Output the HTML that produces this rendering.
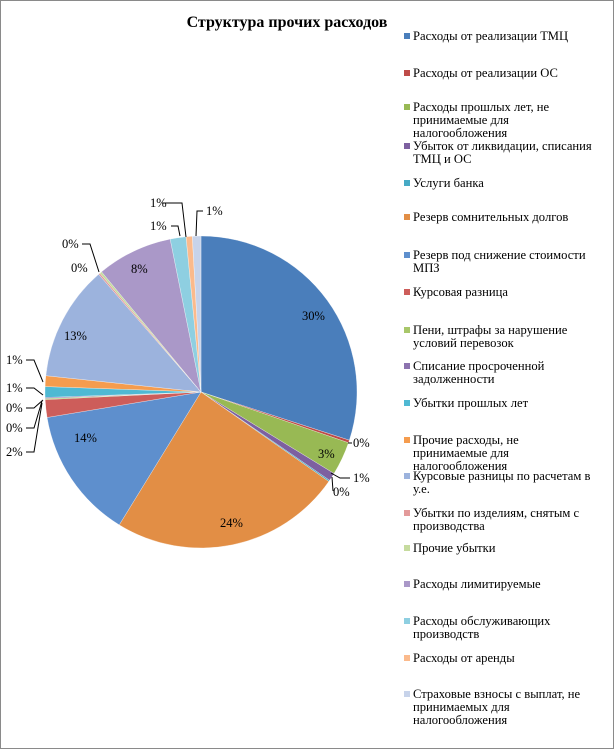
<!DOCTYPE html>
<html><head><meta charset="utf-8"><style>
html,body{margin:0;padding:0;background:#fff}
body{width:614px;height:749px;overflow:hidden;position:relative;font-family:"Liberation Serif",serif}
#frame{position:absolute;left:0;top:0;width:612px;height:747px;border:1px solid #8a8a8a}
.t{position:absolute;left:-20px;top:14px;width:614px;text-align:center;font-weight:bold;font-size:16px;color:#000}
.lg{position:absolute;left:404px;width:200px;font-size:12.6px;line-height:13px;color:#000}
.lg i{position:absolute;left:0;top:3px;width:6px;height:6px}
.lg span{display:block;margin-left:9px;width:180px}
svg text{font-family:"Liberation Serif",serif;font-size:12.5px;fill:#000}
</style></head><body>
<div id="frame"></div>
<div class="t">Структура прочих расходов</div>
<svg id="s" width="614" height="749" style="position:absolute;left:0;top:0"></svg>
<div id="L"></div>
<script>
var C=[201,392],R=156;
var sl=[[0,108,"#4A7EBB"],[108,109,"#BE4B48"],[109,121.5,"#98B954"],[121.5,124.5,"#7D60A0"],[124.5,125,"#46AAC5"],
[125,211.6,"#E28E45"],[211.6,260.6,"#5E8FCD"],[260.6,267.2,"#CD5D5A"],[267.2,267.6,"#A8C76A"],[267.6,268,"#8C73AF"],
[268,272,"#4FB9D3"],[272,276,"#F59C4E"],[276,319,"#9CB3DD"],[319,319.6,"#E39A9A"],[319.6,320.4,"#C6DB9E"],
[320.4,348.6,"#AA98C8"],[348.6,354.5,"#8ECFE1"],[354.5,356.8,"#FBBA8C"],[356.8,360,"#C7D3EA"]];
function p(a,r){a=a*Math.PI/180;return [C[0]+r*Math.sin(a),C[1]-r*Math.cos(a)];}
var h="";
sl.forEach(function(s){var a=p(s[0],R),b=p(s[1],R),l=(s[1]-s[0])>180?1:0;
h+='<path d="M'+C[0]+','+C[1]+' L'+a[0].toFixed(2)+','+a[1].toFixed(2)+' A'+R+','+R+' 0 '+l+' 1 '+b[0].toFixed(2)+','+b[1].toFixed(2)+' Z" fill="'+s[2]+'" stroke="#fff" stroke-width="0.3"/>';});
var T=[["30%",302,320],["24%",220,527],["14%",74,442],["13%",64,340],["8%",131,273],["3%",318,458],
["0%",353,447],["1%",353,482],["0%",333,496],
["1%",6,364],["1%",6,392],["0%",6,412],["0%",6,432],["2%",6,456],
["0%",62,248],["0%",71,272],["1%",150,207],["1%",150,230],["1%",206,215]];
T.forEach(function(t){h+='<text x="'+t[1]+'" y="'+t[2]+'">'+t[0]+'</text>';});
var Ln=["M348,443 L352,443","M331,473 L340,478 L350,478","M332,477 L333,491",
"M26,360 L34,360 L43,382","M26,388 L34,388 L43,395","M26,408 L34,408 L43,400","M26,428 L34,428 L42,401","M26,452 L34,452 L42,403",
"M82,244 L90,244 L99,272","M162,203 L182,203 L186,237","M171,226 L178,226 L180,236","M203,211 L197,211 L196,236"];
Ln.forEach(function(d){h+='<path d="'+d+'" fill="none" stroke="#000" stroke-width="1"/>';});
document.getElementById("s").innerHTML=h;
var E=[["Расходы от реализации ТМЦ",30,"#4A7EBB"],["Расходы от реализации ОС",67,"#BE4B48"],["Расходы прошлых лет, не принимаемые для налогообложения",101,"#98B954"],
["Убыток от ликвидации, списания ТМЦ и ОС",140,"#7D60A0"],["Услуги банка",177,"#46AAC5"],["Резерв сомнительных долгов",211,"#E28E45"],
["Резерв под снижение стоимости МПЗ",249,"#5E8FCD"],["Курсовая разница",286,"#CD5D5A"],["Пени, штрафы за нарушение условий перевозок",324,"#A8C76A"],
["Списание просроченной задолженности",360,"#8C73AF"],["Убытки прошлых лет",397,"#4FB9D3"],["Прочие расходы, не принимаемые для налогообложения",434,"#F59C4E"],
["Курсовые разницы по расчетам в у.е.",470,"#9CB3DD"],["Убытки по изделиям, снятым с производства",507,"#E39A9A"],["Прочие убытки",542,"#C6DB9E"],
["Расходы лимитируемые",578,"#AA98C8"],["Расходы обслуживающих производств",615,"#8ECFE1"],["Расходы от аренды",652,"#FBBA8C"],
["Страховые взносы с выплат, не принимаемых для налогообложения",688,"#C7D3EA"]];
var g="";
E.forEach(function(e){
g+='<div class="lg" style="top:'+e[1]+'px"><i style="background:'+e[2]+'"></i><span>'+e[0]+'</span></div>';});
document.getElementById("L").innerHTML=g;
</script>
</body></html>
